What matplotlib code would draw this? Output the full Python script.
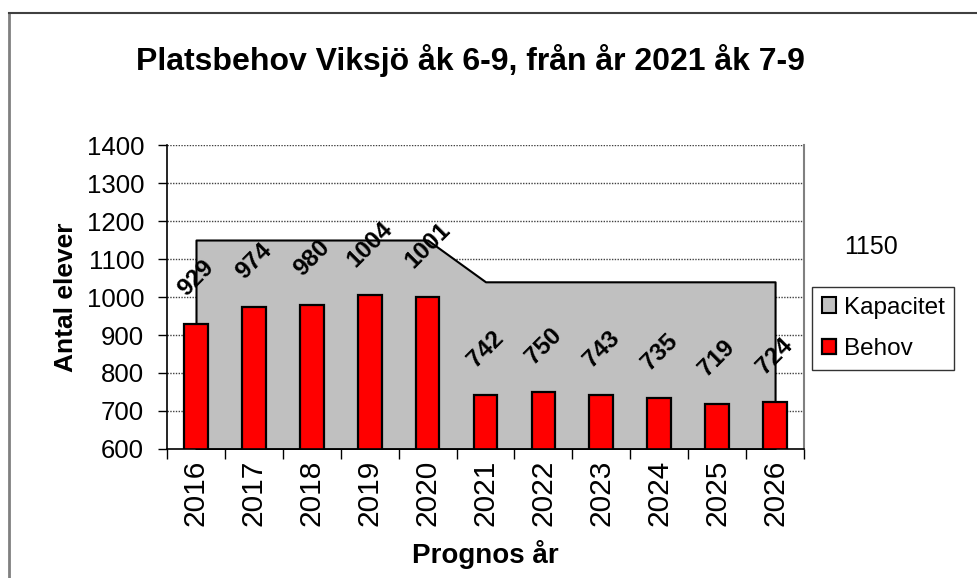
import matplotlib
matplotlib.use("Agg")
import matplotlib.pyplot as plt
from matplotlib.lines import Line2D
import numpy as np

plt.rcParams['font.family'] = ['Liberation Sans', 'DejaVu Sans']

years = ['2016', '2017', '2018', '2019', '2020', '2021',
         '2022', '2023', '2024', '2025', '2026']
behov = [929, 974, 980, 1004, 1001, 742, 750, 743, 735, 719, 724]
kapacitet = [1150, 1150, 1150, 1150, 1150, 1040, 1040, 1040, 1040, 1040, 1040]
kap_label = '1150'

fig = plt.figure(figsize=(9.78, 5.78), dpi=100)
ax = fig.add_axes([0.1708, 0.2232, 0.6513, 0.5259])

x = np.arange(len(years))

# grid behind everything
for v in range(700, 1401, 100):
    ax.axhline(v, color='#404040', lw=1, ls=(0, (1, 1)), zorder=0)

ax.fill_between(x, 600, kapacitet, facecolor='#C0C0C0', edgecolor='black',
                lw=1.5, zorder=1, label='Kapacitet')
ax.bar(x, behov, width=0.41, bottom=0, color='#FF0000', edgecolor='black',
       lw=1.6, zorder=2, label='Behov')

for xi, v in zip(x, behov):
    ax.annotate(str(v), (xi, v), xytext=(0, 17), textcoords='offset points',
                rotation=45, ha='center', va='bottom', fontsize=17.5,
                fontweight='bold', zorder=3)

ax.set_ylim(600, 1400)
ax.set_xlim(-0.5, len(years) - 0.5)
ax.set_yticks(range(600, 1401, 100))
ax.tick_params(axis='y', labelsize=18.5, length=6.5, direction='out',
               width=1, pad=10)

ax.set_xticks(np.arange(-0.5, len(years), 1))
ax.set_xticklabels([])
ax.set_xticks(x, minor=True)
ax.set_xticklabels(years, minor=True, rotation=90, fontsize=21.5)
ax.tick_params(axis='x', which='major', length=7, width=1, direction='out')
ax.tick_params(axis='x', which='minor', length=0, pad=8)

ax.spines['top'].set_visible(False)
ax.spines['right'].set_color('#808080')
ax.spines['right'].set_linewidth(1.5)
ax.spines['left'].set_linewidth(1.2)
ax.spines['bottom'].set_linewidth(1.2)

ax.set_ylabel('Antal elever', fontsize=19, fontweight='bold', labelpad=6)
ax.set_xlabel('Prognos år', fontsize=20, fontweight='bold', labelpad=10)

fig.text(0.481, 0.895, 'Platsbehov Viksjö åk 6-9, från år 2021 åk 7-9',
         ha='center', va='center', fontsize=23, fontweight='bold')

fig.text(0.891, 0.573, kap_label, ha='center', va='center', fontsize=18)

leg = ax.legend(loc='upper left', bbox_to_anchor=(812 / 978, 1 - 287 / 578),
                bbox_transform=fig.transFigure,
                fontsize=17.5, frameon=True, fancybox=False, handlelength=0.6,
                handleheight=0.6, handletextpad=0.3, borderpad=0.4,
                labelspacing=0.8, borderaxespad=0)
leg.get_frame().set_edgecolor('black')
leg.get_frame().set_linewidth(1)

# outer chart border (left and top visible)
fig.add_artist(Line2D([9 / 978, 9 / 978], [0, 1 - 13 / 578], color='#808080',
                      lw=2, transform=fig.transFigure))
fig.add_artist(Line2D([9 / 978, 1], [1 - 13 / 578, 1 - 13 / 578],
                      color='#404040', lw=1.5, transform=fig.transFigure))

fig.savefig('out.png', dpi=100)
